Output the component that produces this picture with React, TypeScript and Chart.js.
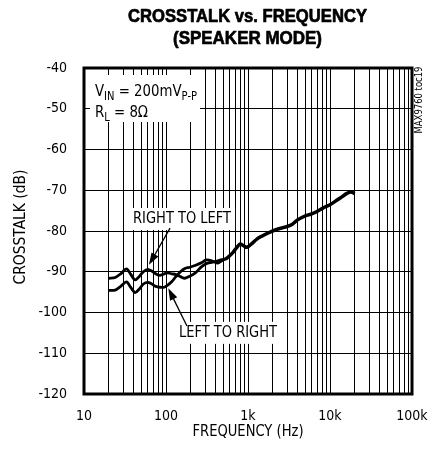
import React, { useEffect, useRef } from 'react';
import { Chart, registerables } from 'chart.js';

Chart.register(...registerables);

// ---------- data ----------
const freqHz = [
  20, 24, 28, 33, 37, 42, 47, 53, 60, 67, 75, 84, 95, 105, 118, 132, 150, 170, 195, 230,
  270, 310, 360, 420, 480, 550, 640, 730, 800, 880, 970, 1100, 1300, 1500, 1800, 2100,
  2500, 3000, 3500, 4000, 5000, 6000, 7000, 8500, 10000, 12000, 14000, 16000, 18000, 20000,
];

const rightToLeftDb = [
  -91.6, -91.4, -90.5, -89.3, -90.6, -92.0, -91.2, -90.0, -89.4, -89.8, -90.5, -90.9, -90.5, -90.3, -90.5, -90.7, -91.2, -91.6, -91.1, -90.2,
  -88.8, -88.0, -87.7, -87.4, -87.0, -86.8, -85.6, -84.2, -83.3, -83.7, -84.1, -83.3, -82.0, -81.3, -80.5, -79.9,
  -79.4, -79.0, -78.4, -77.4, -76.4, -75.9, -75.3, -74.3, -73.6, -72.6, -71.7, -70.9, -70.5, -70.9,
];

const leftToRightDb = [
  -94.6, -94.5, -93.6, -92.5, -93.8, -95.1, -94.3, -93.0, -92.6, -93.0, -93.6, -93.8, -93.8, -93.3, -92.4, -91.2, -90.0, -89.2, -88.9, -88.4,
  -87.8, -87.1, -87.3, -87.9, -87.3, -86.6, -85.4, -83.9, -83.1, -83.5, -83.9, -83.1, -81.8, -81.1, -80.3, -79.7,
  -79.2, -78.8, -78.2, -77.2, -76.2, -75.7, -75.1, -74.1, -73.5, -72.4, -71.5, -70.7, -70.3, -70.8,
];

const xLabelValues = [10, 100, 1000, 10000, 100000];
const xLabelText = ['10', '100', '1k', '10k', '100k'];
const gridMultipliers = [1, 2, 3, 4, 5, 6, 7, 8, 9];
const yMin = -120;
const yMax = -40;
const yStep = 10;

const titleLines = ['CROSSTALK vs. FREQUENCY', '(SPEAKER MODE)'];
const xAxisTitle = 'FREQUENCY (Hz)';
const yAxisTitle = 'CROSSTALK (dB)';
const watermark = 'MAX9760 toc19';

// annotation anchors in data space: label centre, arrow start, arrow tip
const rightLabel = { text: 'RIGHT TO LEFT', f: 157, db: -77.05, fromF: 112, fromDb: -79.3, toF: 62, toDb: -88.3 };
const leftLabel = { text: 'LEFT TO RIGHT', f: 570, db: -105.0, fromF: 180, fromDb: -103.3, toF: 106.7, toDb: -94.06 };

// ---------- styling ----------
const NARROW = '"Liberation Sans Narrow", "DejaVu Sans Condensed", "Liberation Sans", Arial, sans-serif';
const SANS = '"Liberation Sans", Arial, sans-serif';

function buildGrid(): number[] {
  const out: number[] = [];
  for (let d = 10; d < 100000; d *= 10) {
    for (const m of gridMultipliers) out.push(d * m);
  }
  out.push(100000);
  return out;
}

function drawFitted(
  ctx: CanvasRenderingContext2D,
  text: string,
  cx: number,
  cy: number,
  font: string,
  targetW: number,
  rotate = 0,
  heavy = 0,
) {
  ctx.save();
  ctx.font = font;
  const w = ctx.measureText(text).width;
  const sx = targetW / w;
  ctx.translate(cx, cy);
  if (rotate) ctx.rotate(rotate);
  ctx.scale(sx, 1);
  ctx.textAlign = 'center';
  ctx.textBaseline = 'middle';
  ctx.fillStyle = '#000';
  ctx.fillText(text, 0, 0);
  if (heavy > 0) {
    ctx.strokeStyle = '#000';
    ctx.lineWidth = heavy;
    ctx.lineJoin = 'round';
    ctx.strokeText(text, 0, 0);
  }
  ctx.restore();
}

type Seg = { t: string; sub?: boolean };

function drawRich(
  ctx: CanvasRenderingContext2D,
  segs: Seg[],
  x: number,
  baseline: number,
  size: number,
  subSize: number,
  targetW: number,
) {
  ctx.save();
  const mainFont = `${size}px ${NARROW}`;
  const subFont = `${subSize}px ${NARROW}`;
  let total = 0;
  for (const s of segs) {
    ctx.font = s.sub ? subFont : mainFont;
    total += ctx.measureText(s.t).width;
  }
  const sx = targetW / total;
  ctx.translate(x, baseline);
  ctx.scale(sx, 1);
  ctx.textAlign = 'left';
  ctx.textBaseline = 'alphabetic';
  ctx.fillStyle = '#000';
  let cx = 0;
  for (const s of segs) {
    ctx.font = s.sub ? subFont : mainFont;
    ctx.fillText(s.t, cx, s.sub ? 4 : 0);
    cx += ctx.measureText(s.t).width;
  }
  ctx.restore();
}

function arrow(ctx: CanvasRenderingContext2D, x1: number, y1: number, x2: number, y2: number) {
  const ang = Math.atan2(y2 - y1, x2 - x1);
  const len = 12;
  const half = 4;
  ctx.save();
  ctx.strokeStyle = '#000';
  ctx.fillStyle = '#000';
  ctx.lineWidth = 1.3;
  ctx.beginPath();
  ctx.moveTo(x1, y1);
  ctx.lineTo(x2 - Math.cos(ang) * len * 0.8, y2 - Math.sin(ang) * len * 0.8);
  ctx.stroke();
  ctx.beginPath();
  ctx.moveTo(x2, y2);
  ctx.lineTo(
    x2 - Math.cos(ang) * len - Math.sin(ang) * half,
    y2 - Math.sin(ang) * len + Math.cos(ang) * half,
  );
  ctx.lineTo(
    x2 - Math.cos(ang) * len + Math.sin(ang) * half,
    y2 - Math.sin(ang) * len - Math.cos(ang) * half,
  );
  ctx.closePath();
  ctx.fill();
  ctx.restore();
}

const LABEL_W = 98;
const LABEL_FONT = `16px ${NARROW}`;

const decor = {
  id: 'decor',
  beforeDatasetsDraw(chart: any) {
    const { ctx, chartArea: a, scales } = chart;
    const x = scales.x;
    const y = scales.y;
    ctx.save();
    ctx.fillStyle = '#fff';
    // condition box
    ctx.fillRect(a.left + 6, a.top + 7, 110, 47);
    // annotation label boxes
    for (const l of [rightLabel, leftLabel]) {
      const cx = x.getPixelForValue(l.f);
      const cy = y.getPixelForValue(l.db);
      ctx.fillRect(cx - LABEL_W / 2 - 4, cy - 11, LABEL_W + 8, 22);
    }
    ctx.restore();
  },
  afterDraw(chart: any) {
    const { ctx, chartArea: a, scales } = chart;
    const x = scales.x;
    const y = scales.y;
    const cxPlot = (a.left + a.right) / 2;

    // frame
    ctx.save();
    ctx.strokeStyle = '#000';
    ctx.lineWidth = 3;
    ctx.strokeRect(a.left, a.top, a.right - a.left, a.bottom - a.top);
    ctx.restore();

    // title
    drawFitted(ctx, titleLines[0], cxPlot - 0.5, 17, `bold 18.5px ${SANS}`, 239, 0, 0.7);
    drawFitted(ctx, titleLines[1], cxPlot - 0.5, 39, `bold 18.5px ${SANS}`, 149, 0, 0.7);

    // axis titles
    drawFitted(ctx, xAxisTitle, cxPlot, 432, `15px ${NARROW}`, 111);
    drawFitted(ctx, yAxisTitle, 21, 227, `15px ${NARROW}`, 115, -Math.PI / 2);

    // watermark
    drawFitted(ctx, watermark, a.right + 7, 100, `10px ${NARROW}`, 67, -Math.PI / 2);

    // conditions
    drawRich(ctx, [{ t: 'V' }, { t: 'IN', sub: true }, { t: ' = 200mV' }, { t: 'P-P', sub: true }], a.left + 11, a.top + 28, 16, 12, 102);
    drawRich(ctx, [{ t: 'R' }, { t: 'L', sub: true }, { t: ' = 8Ω' }], a.left + 11, a.top + 49, 16, 12, 53);

    // annotations
    for (const l of [rightLabel, leftLabel]) {
      const cx = x.getPixelForValue(l.f);
      const cy = y.getPixelForValue(l.db);
      drawFitted(ctx, l.text, cx, cy, LABEL_FONT, LABEL_W);
      arrow(
        ctx,
        x.getPixelForValue(l.fromF),
        y.getPixelForValue(l.fromDb),
        x.getPixelForValue(l.toF),
        y.getPixelForValue(l.toDb),
      );
    }
  },
};

export default function App() {
  const ref = useRef<HTMLCanvasElement | null>(null);

  useEffect(() => {
    const canvas = ref.current;
    if (!canvas) return;
    const grid = buildGrid();
    const chart = new Chart(canvas, {
      type: 'line',
      data: {
        datasets: [
          {
            label: 'RIGHT TO LEFT',
            data: freqHz.map((f, i) => ({ x: f, y: rightToLeftDb[i] })),
            borderColor: '#000',
            borderWidth: 2.8,
            pointRadius: 0,
            tension: 0.3,
            fill: false,
          },
          {
            label: 'LEFT TO RIGHT',
            data: freqHz.map((f, i) => ({ x: f, y: leftToRightDb[i] })),
            borderColor: '#000',
            borderWidth: 2.8,
            pointRadius: 0,
            tension: 0.3,
            fill: false,
          },
        ],
      },
      options: {
        animation: false,
        responsive: false,
        devicePixelRatio: 1,
        layout: { padding: { top: 68, right: 16, left: 0, bottom: 0 } },
        plugins: {
          legend: { display: false },
          title: { display: false },
          tooltip: { enabled: false },
        },
        scales: {
          x: {
            type: 'logarithmic',
            min: 10,
            max: 100000,
            afterBuildTicks: (s: any) => {
              s.ticks = grid.map((v) => ({ value: v }));
            },
            afterFit: (s: any) => {
              s.height = 61;
              s.paddingLeft = 0;
              s.paddingRight = 0;
            },
            ticks: {
              autoSkip: false,
              maxRotation: 0,
              minRotation: 0,
              padding: 14,
              color: '#000',
              font: { family: NARROW, size: 14 },
              callback: (v: any) => {
                const idx = xLabelValues.findIndex((lv) => Math.abs(lv - Number(v)) < 1e-6);
                return idx >= 0 ? xLabelText[idx] : '';
              },
            },
            grid: { color: '#000', lineWidth: 1, drawTicks: false },
            border: { display: false },
          },
          y: {
            type: 'linear',
            min: yMin,
            max: yMax,
            afterFit: (s: any) => {
              s.width = 84;
              s.paddingTop = 0;
              s.paddingBottom = 0;
            },
            ticks: {
              stepSize: yStep,
              padding: 17,
              color: '#000',
              font: { family: NARROW, size: 14 },
            },
            grid: { color: '#000', lineWidth: 1, drawTicks: false },
            border: { display: false },
          },
        },
      },
      plugins: [decor],
    } as any);
    return () => chart.destroy();
  }, []);

  return (
    <div style={{ position: 'absolute', left: 0, top: 0, width: 428, height: 455, background: '#fff' }}>
      <canvas ref={ref} width={428} height={455} style={{ display: 'block', width: 428, height: 455 }} />
    </div>
  );
}
